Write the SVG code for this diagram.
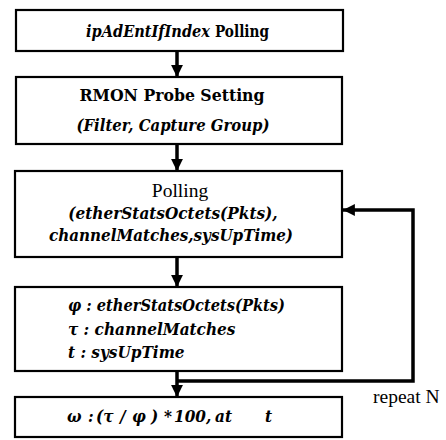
<svg xmlns="http://www.w3.org/2000/svg" width="446" height="440" viewBox="0 0 446 440">
<defs>
<marker id="ah" viewBox="0 0 10 10" refX="10" refY="5" markerWidth="3.4" markerHeight="3.4" orient="auto" markerUnits="strokeWidth">
<path d="M0,0 L10,5 L0,10 z" fill="#000"/>
</marker>
<style>
.box{fill:#fff;stroke:#000;stroke-width:2.2}
.t{font-family:'Liberation Serif','Times New Roman',serif;font-size:19.5px;fill:#000}
.b{font-family:'DejaVu Serif Condensed','DejaVu Serif',serif;font-stretch:condensed;font-weight:bold;font-size:17px}
.i{font-style:italic}
.c{text-anchor:middle}
.ln{fill:none;stroke:#000;stroke-width:3.5}
</style>
</defs>
<rect width="446" height="440" fill="#fff"/>
<g id="connectors">
<line class="ln" x1="177" y1="51" x2="177" y2="77" marker-end="url(#ah)"/>
<line class="ln" x1="177" y1="144" x2="177" y2="171" marker-end="url(#ah)"/>
<line class="ln" x1="177" y1="257" x2="177" y2="287" marker-end="url(#ah)"/>
<line class="ln" x1="177" y1="371" x2="177" y2="397" marker-end="url(#ah)"/>
<polyline class="ln" points="177,381 413,381 413,210 343,210" marker-end="url(#ah)"/>
<text class="t" x="373" y="403" font-size="20.5">repeat N</text>
</g>
<g id="n1">
<rect class="box" x="16" y="10" width="327" height="41"/>
<text class="t b i" x="86" y="37" textLength="124" lengthAdjust="spacingAndGlyphs">ipAdEntIfIndex</text>
<text class="t b" x="215" y="37" textLength="54" lengthAdjust="spacingAndGlyphs">Polling</text>
</g>
<g id="n2">
<rect class="box" x="16" y="77" width="326" height="67"/>
<text class="t b c" x="172" y="101" textLength="185" lengthAdjust="spacingAndGlyphs">RMON  Probe Setting</text>
<text class="t b i c" x="173" y="131" textLength="193" lengthAdjust="spacingAndGlyphs">(Filter, Capture Group)</text>
</g>
<g id="n3">
<rect class="box" x="15" y="171" width="327" height="86"/>
<text class="t c" x="180" y="197">Polling</text>
<text class="t b i c" x="173" y="219">(etherStatsOctets(Pkts),</text>
<text class="t b i c" x="171" y="241" textLength="244" lengthAdjust="spacingAndGlyphs">channelMatches,sysUpTime)</text>
</g>
<g id="n4">
<rect class="box" x="15" y="287" width="327" height="84"/>
<text class="t b i" x="68" y="311" textLength="217" lengthAdjust="spacingAndGlyphs">φ  : etherStatsOctets(Pkts)</text>
<text class="t b i" x="68" y="335">τ   : channelMatches</text>
<text class="t b i" x="68" y="358">t  : sysUpTime</text>
</g>
<g id="n5">
<rect class="box" x="15" y="397" width="327" height="40"/>
<text class="t b i" y="422"><tspan x="67">ω</tspan><tspan x="88">:</tspan><tspan x="96">(τ</tspan><tspan x="120">/</tspan><tspan x="132">φ</tspan><tspan x="151">)</tspan><tspan x="164">*</tspan><tspan x="174">100,</tspan><tspan x="215">at</tspan><tspan x="265">t</tspan></text>
</g>
</svg>
